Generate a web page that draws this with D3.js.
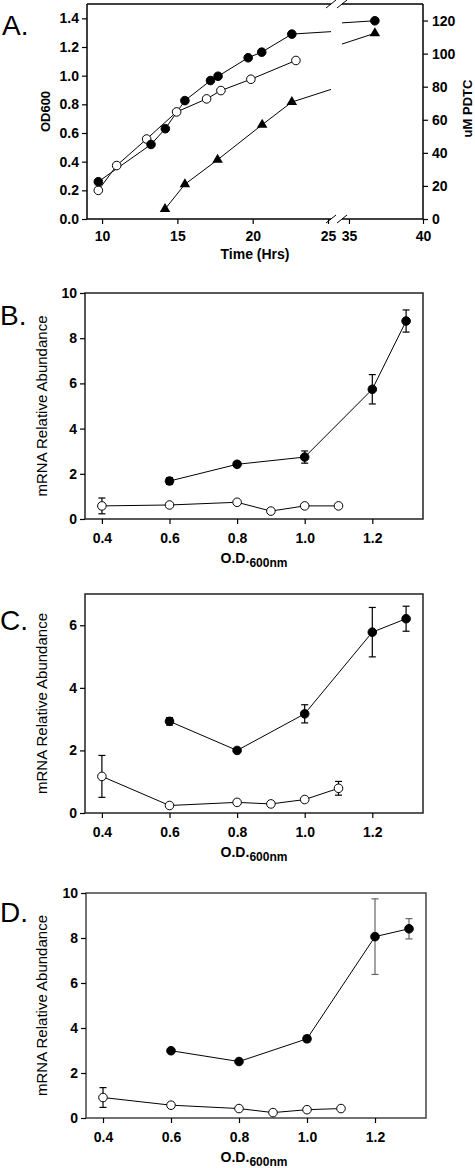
<!DOCTYPE html>
<html>
<head>
<meta charset="utf-8">
<script src="https://cdn.jsdelivr.net/npm/d3@7"></script>
<style>
  html, body { margin: 0; padding: 0; background: #fff; }
  svg { display: block; }
  text { font-family: "Liberation Sans", Arial, sans-serif; fill: #000; }
</style>
</head>
<body>
<svg id="chart" width="475" height="1168"></svg>
<script>
// ---------- Panel A data ----------
const timeTicksA1 = [10, 15, 20, 25];
const timeTicksA2 = [35, 40];
const odTicks = [0.0, 0.2, 0.4, 0.6, 0.8, 1.0, 1.2, 1.4];
const pdtcTicks = [0, 20, 40, 60, 80, 100, 120];

const timeFilled = [9.75, 13.25, 14.2, 15.5, 17.2, 17.7, 19.7, 20.6, 22.6, 36.75];
const odFilled   = [0.26, 0.52, 0.63, 0.826, 0.966, 0.996, 1.125, 1.164, 1.29, 1.383];
const timeOpen   = [9.75, 10.97, 12.96, 14.95, 16.94, 17.89, 19.88, 22.87];
const odOpen     = [0.2, 0.373, 0.558, 0.747, 0.838, 0.896, 0.975, 1.106];
const timePdtc   = [14.18, 15.5, 17.67, 20.63, 22.6, 36.75];
const pdtcValues = [6, 21, 35.8, 57, 70.7, 112.3];

// ---------- Panels B-D data ----------
const odCategoriesFilled = [0.6, 0.8, 1.0, 1.2, 1.3];
const odCategoriesOpen   = [0.4, 0.6, 0.8, 0.9, 1.0, 1.1];
const odTicksBCD = [0.4, 0.6, 0.8, 1.0, 1.2];

const bFilled    = [1.68, 2.42, 2.74, 5.74, 8.76];
const bFilledErr = [0.15, 0.1, 0.27, 0.65, 0.49];
const bOpen      = [0.58, 0.62, 0.74, 0.35, 0.58, 0.58];
const bOpenErr   = [0.35, 0, 0, 0, 0, 0];

const cFilled    = [2.93, 2.0, 3.17, 5.78, 6.21];
const cFilledErr = [0.12, 0.05, 0.29, 0.79, 0.4];
const cOpen      = [1.17, 0.24, 0.34, 0.29, 0.43, 0.79];
const cOpenErr   = [0.67, 0, 0, 0, 0, 0.22];

const dFilled    = [2.99, 2.51, 3.52, 8.06, 8.41];
const dFilledErr = [0.05, 0.08, 0.15, 1.68, 0.45];
const dOpen      = [0.91, 0.57, 0.42, 0.24, 0.37, 0.42];
const dOpenErr   = [0.44, 0, 0, 0, 0, 0];

const ticksBD = [0, 2, 4, 6, 8, 10];
const ticksC  = [0, 2, 4, 6];

const svg = d3.select("#chart");
const FONT_TICK = "bold 14px 'Liberation Sans', Arial, sans-serif";

function styleAxis(g) {
  g.selectAll("path.domain").remove();
  g.selectAll(".tick line").attr("stroke", "#000").attr("stroke-width", 1.2);
  g.selectAll(".tick text").style("font", FONT_TICK).attr("fill", "#000");
}

// ================= Panel A =================
(function panelA() {
  const top = 4, bottom = 219, left = 87, right = 423;
  const brk1 = 331, brk2 = 342;
  const x1 = d3.scaleLinear().domain([9, 25.2]).range([left, brk1]);
  const x2 = d3.scaleLinear().domain([34.53, 40]).range([brk2, right]);
  const yL = d3.scaleLinear().domain([0, 1.5]).range([bottom, top]);
  const yR = d3.scaleLinear().domain([0, 130]).range([bottom, top]);
  const g = svg.append("g");

  const frame = g.append("g").attr("stroke", "#000").attr("stroke-width", 1.5).attr("fill", "none");
  frame.append("line").attr("x1", left).attr("x2", left).attr("y1", top).attr("y2", bottom);
  frame.append("line").attr("x1", right).attr("x2", right).attr("y1", top).attr("y2", bottom);
  frame.append("line").attr("x1", left).attr("x2", brk1).attr("y1", top).attr("y2", top);
  frame.append("line").attr("x1", brk2).attr("x2", right).attr("y1", top).attr("y2", top);
  frame.append("line").attr("x1", left).attr("x2", brk1).attr("y1", bottom).attr("y2", bottom);
  frame.append("line").attr("x1", brk2).attr("x2", right).attr("y1", bottom).attr("y2", bottom);
  [top, bottom].forEach(yy => {
    [brk1, brk2].forEach(xx => {
      frame.append("line").attr("stroke-width", 1)
        .attr("x1", xx - 5).attr("y1", yy + 4).attr("x2", xx + 5).attr("y2", yy - 4);
    });
  });

  g.append("g").attr("transform", `translate(${left},0)`)
    .call(d3.axisLeft(yL).tickValues(odTicks).tickFormat(d3.format(".1f")).tickSize(5).tickPadding(3))
    .call(styleAxis);
  g.append("g").attr("transform", `translate(${right},0)`)
    .call(d3.axisRight(yR).tickValues(pdtcTicks).tickFormat(d3.format("d")).tickSize(5).tickPadding(4))
    .call(styleAxis);
  g.append("g").attr("transform", `translate(0,${bottom})`)
    .call(d3.axisBottom(x1).tickValues(timeTicksA1).tickFormat(d3.format("d")).tickSize(5).tickPadding(7))
    .call(styleAxis);
  g.append("g").attr("transform", `translate(0,${bottom})`)
    .call(d3.axisBottom(x2).tickValues(timeTicksA2).tickFormat(d3.format("d")).tickSize(5).tickPadding(7))
    .call(styleAxis);

  g.append("text").attr("x", 2).attr("y", 35).style("font", "28px 'Liberation Sans', Arial, sans-serif").text("A.");
  g.append("text").attr("transform", `translate(50,${(top + bottom) / 2}) rotate(-90)`)
    .attr("text-anchor", "middle").style("font", "bold 13px 'Liberation Sans', Arial, sans-serif").text("OD600");
  g.append("text").attr("transform", `translate(472,${(top + bottom) / 2 - 3}) rotate(-90)`)
    .attr("text-anchor", "middle").style("font", "bold 13px 'Liberation Sans', Arial, sans-serif").text("uM PDTC");
  g.append("text").attr("x", 255).attr("y", 259).attr("text-anchor", "middle")
    .style("font", "bold 14px 'Liberation Sans', Arial, sans-serif").text("Time (Hrs)");

  const seg1End = x1.domain()[1], seg2Start = x2.domain()[0];
  function X(t) { return t <= seg1End ? x1(t) : x2(t); }
  function drawSeries(times, vals, yScale) {
    const lg = g.append("g").attr("stroke", "#000").attr("stroke-width", 1).attr("fill", "none");
    for (let i = 0; i < times.length - 1; i++) {
      const ta = times[i], tb = times[i + 1], va = vals[i], vb = vals[i + 1];
      if ((ta <= seg1End) === (tb <= seg1End)) {
        lg.append("line").attr("x1", X(ta)).attr("y1", yScale(va)).attr("x2", X(tb)).attr("y2", yScale(vb));
      } else {
        const interp = t => va + (vb - va) * (t - ta) / (tb - ta);
        lg.append("line").attr("x1", X(ta)).attr("y1", yScale(va))
          .attr("x2", x1(seg1End)).attr("y2", yScale(interp(seg1End)));
        lg.append("line").attr("x1", x2(seg2Start)).attr("y1", yScale(interp(seg2Start)))
          .attr("x2", X(tb)).attr("y2", yScale(vb));
      }
    }
  }
  drawSeries(timeFilled, odFilled, yL);
  drawSeries(timeOpen, odOpen, yL);
  drawSeries(timePdtc, pdtcValues, yR);

  g.selectAll("circle.fo").data(d3.zip(timeOpen, odOpen)).join("circle")
    .attr("cx", d => X(d[0])).attr("cy", d => yL(d[1])).attr("r", 4.3)
    .attr("fill", "#fff").attr("stroke", "#000").attr("stroke-width", 1);
  g.selectAll("circle.ff").data(d3.zip(timeFilled, odFilled)).join("circle")
    .attr("cx", d => X(d[0])).attr("cy", d => yL(d[1])).attr("r", 4.3)
    .attr("fill", "#000").attr("stroke", "#000");
  const tri = d3.symbol().type(d3.symbolTriangle).size(48);
  g.selectAll("path.tri").data(d3.zip(timePdtc, pdtcValues)).join("path")
    .attr("transform", d => `translate(${X(d[0])},${yR(d[1])})`).attr("d", tri).attr("fill", "#000");
})();

// ================= Panels B-D =================
function panel(opts) {
  const { label, labelY, top, bottom, left, right, yMax, yTicks, filled, filledErr, open, openErr, errColor, frameColor } = opts;
  const x = d3.scaleLinear().domain([0.35, 1.35]).range([left, right]);
  const y = d3.scaleLinear().domain([0, yMax]).range([bottom, top]);
  const g = svg.append("g");

  g.append("rect").attr("x", left).attr("y", top).attr("width", right - left).attr("height", bottom - top)
    .attr("fill", "none").attr("stroke", frameColor).attr("stroke-width", 1.5);

  g.append("g").attr("transform", `translate(${left},0)`)
    .call(d3.axisLeft(y).tickValues(yTicks).tickFormat(d3.format("d")).tickSize(5).tickPadding(3))
    .call(styleAxis);
  g.append("g").attr("transform", `translate(0,${bottom})`)
    .call(d3.axisBottom(x).tickValues(odTicksBCD).tickFormat(d3.format(".1f")).tickSize(5).tickPadding(9))
    .call(styleAxis);

  g.append("text").attr("x", 0).attr("y", labelY).style("font", "28px 'Liberation Sans', Arial, sans-serif").text(label);
  g.append("text").attr("transform", `translate(47,${(top + bottom) / 2}) rotate(-90)`)
    .attr("text-anchor", "middle").style("font", "15px 'Liberation Sans', Arial, sans-serif")
    .text("mRNA Relative Abundance");
  const xt = g.append("text").attr("x", 254).attr("y", bottom + 44).attr("text-anchor", "middle")
    .style("font", "bold 14px 'Liberation Sans', Arial, sans-serif");
  xt.append("tspan").text("O.D.");
  xt.append("tspan").attr("dy", 4).style("font-size", "12px").text("600nm");

  const line = d3.line().x(d => x(d[0])).y(d => y(d[1]));
  const sets = [
    { xs: odCategoriesOpen, ys: open, es: openErr, fill: "#fff" },
    { xs: odCategoriesFilled, ys: filled, es: filledErr, fill: "#000" }
  ];
  sets.forEach(s => {
    const pts = d3.zip(s.xs, s.ys, s.es);
    g.append("path").datum(pts).attr("d", line).attr("fill", "none").attr("stroke", "#000").attr("stroke-width", 1);
    const eb = g.append("g").attr("stroke", s.fill === "#000" ? errColor : "#000").attr("stroke-width", 1.2);
    pts.filter(p => p[2] > 0).forEach(p => {
      const cx = x(p[0]), y1 = y(p[1] + p[2]), y2 = y(p[1] - p[2]);
      eb.append("line").attr("x1", cx).attr("x2", cx).attr("y1", y1).attr("y2", y2);
      eb.append("line").attr("x1", cx - 3.5).attr("x2", cx + 3.5).attr("y1", y1).attr("y2", y1);
      eb.append("line").attr("x1", cx - 3.5).attr("x2", cx + 3.5).attr("y1", y2).attr("y2", y2);
    });
    g.append("g").selectAll("circle").data(pts).join("circle")
      .attr("cx", d => x(d[0])).attr("cy", d => y(d[1])).attr("r", 4.3)
      .attr("fill", s.fill).attr("stroke", "#000").attr("stroke-width", 1);
  });
}

panel({ label: "B.", labelY: 325, top: 293, bottom: 519, left: 85, right: 423, yMax: 10, yTicks: ticksBD,
  filled: bFilled, filledErr: bFilledErr, open: bOpen, openErr: bOpenErr, errColor: "#000", frameColor: "#222" });
panel({ label: "C.", labelY: 630, top: 594, bottom: 813, left: 85, right: 423, yMax: 7, yTicks: ticksC,
  filled: cFilled, filledErr: cFilledErr, open: cOpen, openErr: cOpenErr, errColor: "#000", frameColor: "#222" });
panel({ label: "D.", labelY: 922, top: 893, bottom: 1118, left: 86, right: 426, yMax: 10, yTicks: ticksBD,
  filled: dFilled, filledErr: dFilledErr, open: dOpen, openErr: dOpenErr, errColor: "#666", frameColor: "#444" });
</script>
</body>
</html>
